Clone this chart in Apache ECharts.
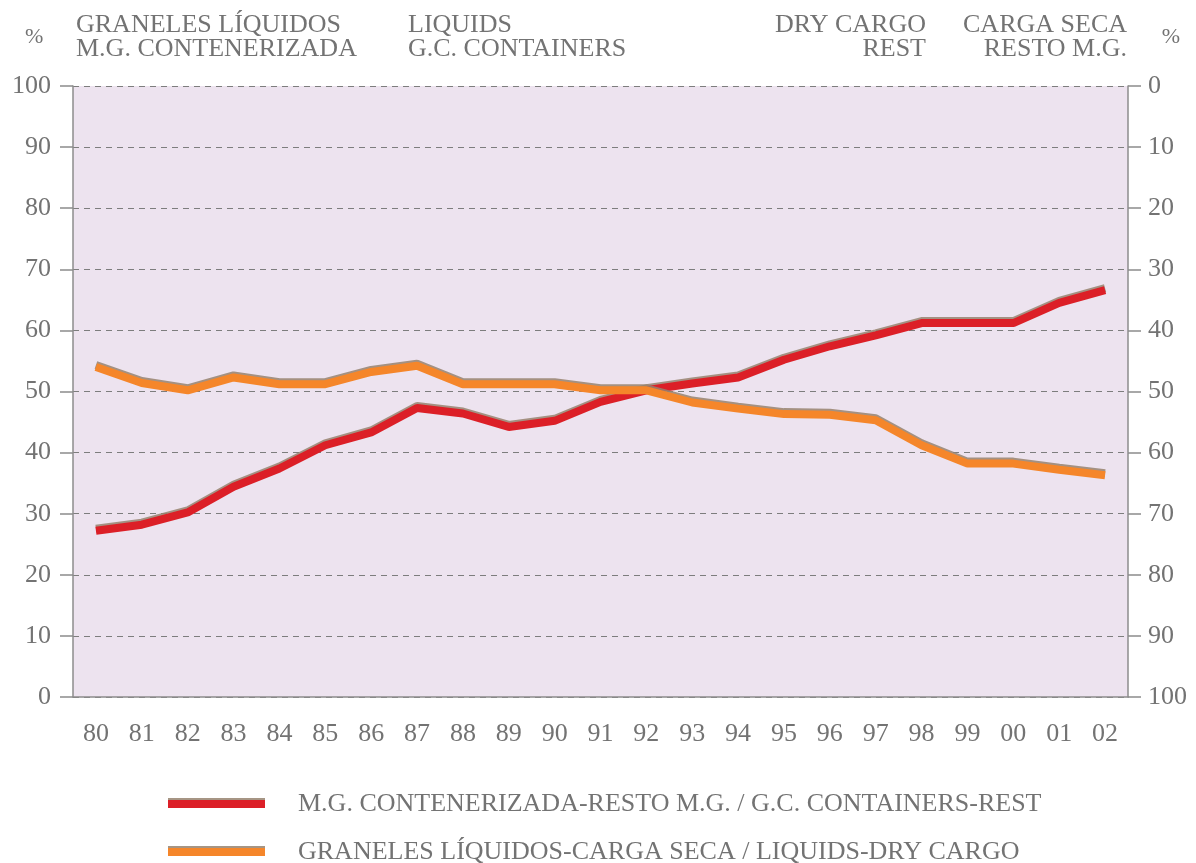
<!DOCTYPE html>
<html>
<head>
<meta charset="utf-8">
<script src="https://cdn.jsdelivr.net/npm/echarts@6/dist/echarts.min.js"></script>
<style>
  html, body { margin: 0; padding: 0; background: #fff; }
  #chart { width: 1196px; height: 863px; }
</style>
</head>
<body>
<div id="chart"></div>
<script>
const years = ['80', '81', '82', '83', '84', '85', '86', '87', '88', '89', '90', '91',
  '92', '93', '94', '95', '96', '97', '98', '99', '00', '01', '02']

// % contenerizada (vs resto M.G.)
const containers = [27.2, 28.2, 30.2, 34.4, 37.4, 41.2, 43.3, 47.3, 46.4, 44.2, 45.2, 48.3,
  50.2, 51.3, 52.3, 55.2, 57.4, 59.2, 61.2, 61.2, 61.2, 64.5, 66.6]
// % graneles liquidos (vs carga seca)
const liquids = [54.0, 51.4, 50.2, 52.3, 51.2, 51.2, 53.2, 54.2, 51.2, 51.2, 51.2, 50.2,
  50.2, 48.2, 47.2, 46.3, 46.2, 45.3, 41.2, 38.2, 38.2, 37.2, 36.3]

const NAME_CONT = 'M.G. CONTENERIZADA-RESTO M.G. / G.C. CONTAINERS-REST'
const NAME_LIQ = 'GRANELES LÍQUIDOS-CARGA SECA / LIQUIDS-DRY CARGO'

const FONT = '"Liberation Serif", serif'
const GREY = '#737373'
const AXIS = '#8c8c8c'
const EDGE = 'rgba(150, 130, 110, 0.85)'

const chart = echarts.init(document.getElementById('chart'))

// one header line; right-aligned ones are anchored by their right edge
const head = (x, y, text, fromRight) => ({
  type: 'text',
  left: fromRight ? undefined : x,
  right: fromRight ? x : undefined,
  top: y,
  style: { text, fill: GREY, font: '26px ' + FONT }
})

const lineSeries = (name, data, color) => ({
  name,
  type: 'line',
  data,
  symbol: 'none',
  yAxisIndex: 0,
  itemStyle: { color },
  lineStyle: {
    color,
    width: 8,
    shadowColor: EDGE,
    shadowBlur: 0,
    shadowOffsetY: -2
  }
})

const legendFor = (name, top) => ({
  orient: 'vertical',
  left: 168,
  top,
  padding: 0,
  icon: 'rect',
  itemWidth: 97,
  itemHeight: 8,
  data: [name],
  itemStyle: { shadowColor: EDGE, shadowBlur: 0, shadowOffsetY: -2 },
  textStyle: {
    color: GREY, fontFamily: FONT, fontSize: 26,
    padding: [0, 0, 0, 28]
  }
})

const option = {
  animation: false,
  backgroundColor: '#fff',
  grid: {
    left: 73, right: 68, top: 86, bottom: 166,
    show: true, backgroundColor: '#ede3ef', borderWidth: 0
  },
  graphic: [
    { type: 'text', left: 25, top: 26, style: { text: '%', fill: GREY, font: '22px ' + FONT } },
    head(76, 12, 'GRANELES LÍQUIDOS'),
    head(76, 36, 'M.G. CONTENERIZADA'),
    head(408, 12, 'LIQUIDS'),
    head(408, 36, 'G.C. CONTAINERS'),
    head(270, 12, 'DRY CARGO', true),
    head(270, 36, 'REST', true),
    head(69, 12, 'CARGA SECA', true),
    head(69, 36, 'RESTO M.G.', true),
    { type: 'text', right: 16, top: 26, style: { text: '%', fill: GREY, font: '22px ' + FONT } }
  ],
  legend: [legendFor(NAME_CONT, 791), legendFor(NAME_LIQ, 839)],
  xAxis: {
    type: 'category',
    data: years,
    boundaryGap: true,
    axisLine: { lineStyle: { color: AXIS, width: 1.5 } },
    axisTick: { alignWithLabel: true, length: 18, lineStyle: { color: AXIS, width: 1.5 } },
    axisLabel: { color: GREY, fontFamily: FONT, fontSize: 26, margin: 24 }
  },
  yAxis: [
    {
      type: 'value', min: 0, max: 100, interval: 10, position: 'left',
      axisLine: { show: true, lineStyle: { color: AXIS, width: 1.5 } },
      axisTick: { show: true, length: 13, lineStyle: { color: AXIS, width: 1.5 } },
      axisLabel: { color: GREY, fontFamily: FONT, fontSize: 26, margin: 22 },
      splitLine: { lineStyle: { color: '#7d7d7d', type: [6, 5], width: 1 } }
    },
    {
      type: 'value', min: 0, max: 100, interval: 10, position: 'right', inverse: true,
      axisLine: { show: true, lineStyle: { color: AXIS, width: 1.5 } },
      axisTick: { show: true, length: 13, lineStyle: { color: AXIS, width: 1.5 } },
      axisLabel: { color: GREY, fontFamily: FONT, fontSize: 26, margin: 20 },
      splitLine: { show: false }
    }
  ],
  series: [
    lineSeries(NAME_CONT, containers, '#dc1f27'),
    lineSeries(NAME_LIQ, liquids, '#f5862a')
  ]
}

chart.setOption(option)
window.addEventListener('resize', () => chart.resize())
</script>
</body>
</html>
